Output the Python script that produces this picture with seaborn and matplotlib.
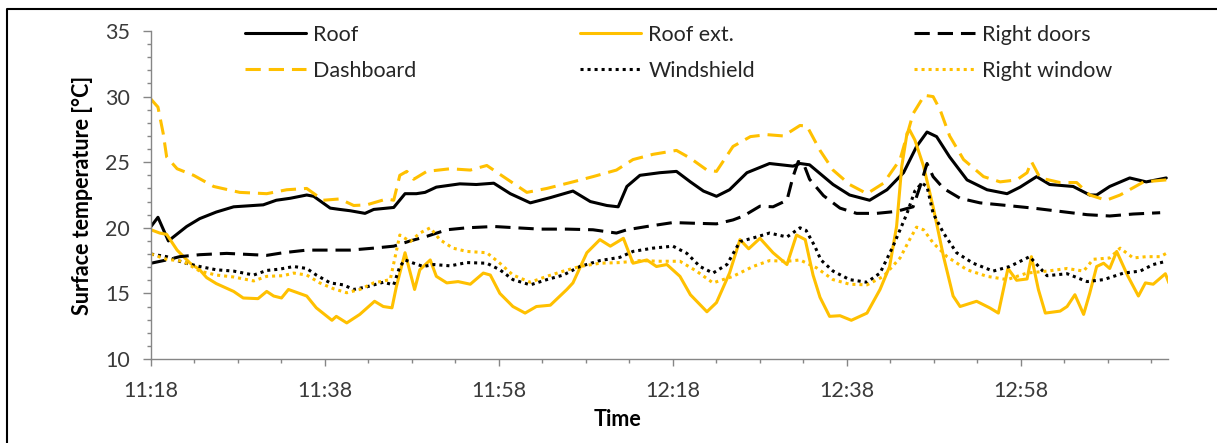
import matplotlib
matplotlib.use("Agg")
import matplotlib.pyplot as plt
import matplotlib.ticker as mticker
from matplotlib.lines import Line2D
import seaborn as sns

sns.set_theme(style="white")
plt.rcParams["font.family"] = ["Lato", "DejaVu Sans"]

# minutes after 11:18 and surface temperatures [°C]
roof_t = [0, 0.8, 2.0, 4.1, 5.6, 7.5, 9.5, 12.9, 14.4, 16.0, 17.9, 18.7, 20.6, 21.7, 22.9, 24.6, 25.6, 27.9,
          29.2, 30.5, 31.5, 32.8, 35.5, 37.4, 39.4, 41.3, 43.6, 45.9, 48.5, 50.5, 52.4, 53.7, 54.7, 56.2,
          58.5, 60.4, 62.0, 63.5, 65.0, 66.5, 68.5, 71.1, 73.8, 74.6, 75.7, 78.4, 80.3, 82.6, 84.6, 86.5,
          88.0, 89.2, 90.3, 91.8, 93.8, 96.1, 98.4, 99.9, 101.8, 103.3, 106.0, 107.9, 108.7, 110.2, 112.5,
          114.4, 116.7]
roof = [20.1, 20.8, 19.0, 20.1, 20.7, 21.2, 21.6, 21.75, 22.1, 22.25, 22.5, 22.4, 21.5, 21.4, 21.3, 21.1, 21.4, 21.55,
        22.6, 22.6, 22.7, 23.1, 23.35, 23.3, 23.4, 22.6, 21.9, 22.3, 22.8, 22.0, 21.7, 21.6, 23.15, 24.0,
        24.2, 24.3, 23.5, 22.8, 22.4, 22.9, 24.2, 24.9, 24.7, 24.9, 24.8, 23.3, 22.5, 22.1, 22.9, 24.2,
        26.2, 27.3, 26.95, 25.4, 23.65, 22.9, 22.6, 23.1, 23.9, 23.3, 23.15, 22.5, 22.5, 23.15, 23.8,
        23.5, 23.8]

dash_t = [0, 0.8, 1.4, 1.8, 3.0, 4.9, 7.2, 10.2, 13.3, 15.6, 17.9, 19.8, 21.7, 23.3, 24.8, 27.1, 27.9, 28.6,
          29.4, 30.2, 31.7, 34.4, 36.7, 38.6, 40.5, 43.2, 45.5, 48.5, 50.8, 53.5, 55.4, 57.7, 60.4, 62.0,
          63.9, 65.0, 66.9, 68.9, 70.8, 72.7, 74.6, 75.4, 76.9, 78.4, 80.3, 82.3, 84.2, 86.1, 87.6, 88.9,
          89.9, 90.7, 91.8, 93.4, 95.7, 97.6, 99.5, 100.7, 101.2, 102.2, 104.5, 106.4, 107.9, 109.8, 111.4,
          114.1, 116.7]
dashboard = [29.8, 29.2, 27.2, 25.4, 24.5, 24.0, 23.15, 22.7, 22.6, 22.9, 23.0, 22.1, 22.2, 21.7, 21.75, 22.2, 22.1, 24.0,
             24.3, 23.7, 24.3, 24.5, 24.4, 24.75, 23.9, 22.7, 23.0, 23.5, 23.9, 24.4, 25.2, 25.6, 25.9, 25.3,
             24.4, 24.3, 26.2, 26.95, 27.1, 27.0, 27.8, 27.75, 25.9, 24.4, 23.3, 22.6, 23.4, 25.2, 28.7, 30.1,
             30.0, 29.0, 27.0, 25.2, 23.9, 23.5, 23.65, 24.2, 25.05, 23.8, 23.45, 23.45, 22.5, 22.1, 22.5,
             23.5, 23.65]

ext_t = [0, 1.0, 1.8, 3.0, 4.5, 5.6, 6.4, 7.5, 9.5, 10.6, 12.3, 13.3, 14.1, 15.0, 15.8, 17.9, 19.0, 20.8,
         21.3, 22.5, 24.0, 25.7, 26.7, 27.7, 28.2, 29.2, 30.3, 30.9, 32.1, 32.8, 34.0, 35.3, 36.7, 38.2,
         39.0, 40.1, 41.6, 43.0, 44.3, 45.9, 47.8, 48.5, 50.1, 51.6, 52.8, 54.3, 55.4, 57.0, 58.1, 59.3,
         60.8, 62.0, 63.9, 65.0, 66.5, 67.7, 68.7, 70.0, 71.5, 73.1, 74.2, 75.2, 76.1, 76.9, 78.0, 79.2,
         80.5, 82.3, 83.8, 84.9, 85.7, 86.3, 86.9, 87.2, 87.8, 88.8, 89.9, 91.1, 92.2, 93.0, 94.9, 96.4,
         97.4, 98.5, 99.5, 100.7, 101.2, 102.0, 102.8, 104.5, 105.3, 106.2, 107.2, 107.9, 108.7, 109.5,
         110.2, 111.0, 112.3, 113.5, 114.3, 115.2, 116.6, 117.0]
roof_ext = [19.85, 19.6, 19.5, 18.3, 17.3, 16.8, 16.2, 15.75, 15.15, 14.65, 14.6, 15.15, 14.8, 14.65, 15.3, 14.8, 13.9, 12.95,
            13.25, 12.75, 13.4, 14.4, 14.0, 13.9, 15.5, 18.1, 15.3, 16.8, 17.55, 16.3, 15.8, 15.9, 15.7, 16.55,
            16.4, 15.0, 14.0, 13.5, 14.0, 14.1, 15.3, 15.8, 18.1, 19.1, 18.6, 19.2, 17.3, 17.55, 17.05, 17.2,
            16.3, 14.9, 13.6, 14.3, 16.55, 19.1, 18.4, 19.2, 18.1, 17.2, 19.45, 19.1, 16.4, 14.7, 13.25, 13.3,
            12.95, 13.5, 15.3, 17.05, 20.1, 24.7, 27.2, 27.45, 26.7, 24.7, 21.6, 17.8, 14.8, 14.0, 14.4, 13.9,
            13.5, 16.9, 16.0, 16.1, 17.8, 15.3, 13.5, 13.65, 14.0, 14.9, 13.4, 15.0, 17.05, 17.3,
            16.9, 18.2, 16.3, 14.8, 15.8, 15.7, 16.5, 15.8]

doors_t = [0, 1.8, 3.3, 5.6, 8.7, 11.8, 13.3, 15.2, 17.9, 20.2, 22.9, 25.6, 27.9, 29.8, 31.7, 34.0, 36.3, 39.4,
           42.0, 44.7, 47.8, 50.8, 53.5, 54.7, 57.0, 60.0, 62.3, 65.0, 66.9, 68.1, 70.0, 71.5, 73.1, 73.8,
           74.4, 75.0, 75.7, 77.3, 79.2, 81.1, 83.4, 85.7, 87.6, 88.4, 89.2, 89.9, 91.1, 93.0, 95.3, 98.4,
           101.4, 104.5, 107.6, 110.2, 112.9, 116.0]
right_doors = [17.3, 17.55, 17.8, 17.95, 18.05, 17.95, 17.9, 18.1, 18.3, 18.3, 18.3, 18.45, 18.6, 19.0, 19.35, 19.85, 20.0, 20.1,
               20.0, 19.9, 19.9, 19.85, 19.6, 19.85, 20.1, 20.4, 20.35, 20.3, 20.6, 20.9, 21.65, 21.6, 22.1, 23.9,
               25.05, 24.9, 23.7, 22.45, 21.5, 21.1, 21.1, 21.25, 21.6, 23.15, 24.9, 23.9, 23.0, 22.25, 21.9, 21.7,
               21.5, 21.25, 21.0, 20.9, 21.05, 21.15]

wind_t = [0, 1.8, 3.7, 5.6, 7.5, 9.5, 11.8, 13.3, 14.8, 16.4, 17.9, 19.0, 20.6, 22.1, 23.3, 24.8, 26.7, 27.9,
          28.6, 29.2, 30.2, 31.3, 32.5, 34.4, 36.3, 38.6, 40.1, 41.6, 43.6, 45.5, 47.4, 49.3, 51.6, 53.9,
          55.4, 57.7, 60.0, 61.6, 63.1, 64.6, 66.2, 67.7, 69.6, 71.1, 73.1, 74.6, 75.3, 76.3, 77.0, 78.4,
          80.3, 82.3, 83.8, 85.3, 86.9, 87.8, 88.6, 89.2, 89.9, 91.1, 92.6, 94.5, 96.8, 98.7, 101.0, 103.0,
          105.3, 107.6, 109.5, 111.8, 113.7, 115.2, 116.7]
windshield = [18.0, 17.8, 17.35, 17.05, 16.8, 16.7, 16.4, 16.75, 16.85, 17.05, 16.9, 16.4, 15.8, 15.65, 15.3, 15.5, 15.85, 15.65,
              17.05, 17.55, 17.3, 17.05, 17.2, 17.1, 17.35, 17.3, 16.8, 16.05, 15.65, 16.05, 16.4, 17.05, 17.5, 17.75,
              18.2, 18.45, 18.6, 18.05, 17.05, 16.55, 17.2, 18.95, 19.3, 19.6, 19.3, 20.0, 19.8, 18.6, 17.55, 16.7,
              16.05, 15.85, 16.55, 18.6, 21.1, 22.8, 23.4, 23.15, 21.1, 19.6, 18.1, 17.3, 16.7, 17.05, 17.8, 16.35,
              16.5, 15.9, 16.05, 16.55, 16.7, 17.2, 17.45]

win_t = [0, 1.8, 3.7, 5.6, 7.5, 9.5, 11.8, 13.3, 15.2, 16.4, 17.9, 19.4, 21.0, 22.5, 24.0, 25.6, 27.5, 28.6,
         29.8, 30.9, 32.1, 33.2, 34.7, 36.3, 38.6, 40.1, 41.6, 43.6, 45.5, 47.4, 49.3, 51.6, 53.9, 56.2,
         58.5, 60.8, 62.7, 64.6, 66.9, 69.2, 71.1, 73.1, 74.6, 76.5, 78.4, 80.3, 82.3, 84.2, 86.1, 87.2,
         88.0, 88.8, 89.9, 91.5, 93.8, 96.1, 98.4, 100.7, 103.0, 105.3, 107.2, 108.3, 110.2, 111.4, 112.9,
         114.4, 116.0, 116.7]
right_window = [18.0, 17.6, 17.45, 16.7, 16.4, 16.25, 15.95, 16.3, 16.35, 16.55, 16.4, 15.8, 15.35, 15.05, 15.3, 15.8, 16.05, 19.45,
                18.95, 19.6, 20.0, 19.1, 18.45, 18.2, 18.1, 17.3, 16.4, 15.85, 16.3, 16.7, 17.05, 17.3, 17.35, 17.5,
                17.45, 17.45, 16.7, 15.8, 16.3, 17.05, 17.5, 17.45, 17.55, 16.95, 16.05, 15.7, 15.65, 16.3, 17.7, 19.1,
                20.05, 19.85, 18.85, 17.8, 16.8, 16.3, 16.05, 16.55, 16.7, 16.9, 16.7, 17.6, 17.7, 18.45, 17.7,
                17.8, 17.8, 18.05]

tick_labels = ["11:18", "11:38", "11:58", "12:18", "12:38", "12:58"]

GOLD = "#FFC000"
DASH = (0, (5, 2.6))
DOT = (0, (1, 1.3))
FS = 15.5

series = [
    ("Roof", roof_t, roof, "black", "-"),
    ("Roof ext.", ext_t, roof_ext, GOLD, "-"),
    ("Right doors", doors_t, right_doors, "black", DASH),
    ("Dashboard", dash_t, dashboard, GOLD, DASH),
    ("Windshield", wind_t, windshield, "black", DOT),
    ("Right window", win_t, right_window, GOLD, DOT),
]

fig = plt.figure(figsize=(12.17, 4.43), dpi=100)
ax = fig.add_axes([151 / 1217, 84 / 443, 1017 / 1217, 328 / 443])

for name, t, v, col, ls in series:
    sns.lineplot(x=t, y=v, color=col, linestyle=ls, linewidth=2.2, label=name, ax=ax,
                 solid_joinstyle="round", dash_joinstyle="round")

ax.set_xlim(0, 116.9)
ax.set_ylim(10, 35)

t0 = int(tick_labels[0][:2]) * 60 + int(tick_labels[0][3:])
tick_pos = [int(s[:2]) * 60 + int(s[3:]) - t0 for s in tick_labels]
ax.set_xticks(tick_pos)
ax.set_xticklabels(tick_labels)
ax.xaxis.set_minor_locator(mticker.MultipleLocator(5))
ax.yaxis.set_major_locator(mticker.MultipleLocator(5))
ax.yaxis.set_minor_locator(mticker.MultipleLocator(1))

for side in ["top", "right"]:
    ax.spines[side].set_visible(False)
for side in ["left", "bottom"]:
    ax.spines[side].set_color("#868686")
    ax.spines[side].set_linewidth(1)

ax.tick_params(axis="both", which="both", direction="out", color="#868686", width=1,
               labelsize=FS, labelcolor="#3a3a3a")
ax.tick_params(axis="y", which="major", length=6, pad=9, left=True)
ax.tick_params(axis="y", which="minor", length=3, left=True)
ax.tick_params(axis="x", which="major", length=5, pad=11, bottom=True)
ax.tick_params(axis="x", which="minor", length=3, bottom=True)

ax.set_xlabel("Time", fontsize=FS, fontweight="bold", color="black")
ax.xaxis.set_label_coords(0.459, -0.152)
ax.set_ylabel("Surface temperature [°C]", fontsize=FS, fontweight="bold", color="black")
ax.yaxis.set_label_coords(-0.057, 0.5)

# legend: three columns, each anchored where the reference puts it
handles, labels = ax.get_legend_handles_labels()
hmap = dict(zip(labels, handles))
columns = [(245, ["Roof", "Dashboard"]),
           (580, ["Roof ext.", "Windshield"]),
           (914, ["Right doors", "Right window"])]
for i, (x0, names) in enumerate(columns):
    leg = ax.legend([hmap[k] for k in names], names, loc="upper left",
                    bbox_to_anchor=(x0 / 1217, 0.944), bbox_transform=fig.transFigure,
                    frameon=False, fontsize=FS, handlelength=2.85, handletextpad=0.33,
                    labelspacing=0.73, borderpad=0, borderaxespad=0)
    if i < len(columns) - 1:
        ax.add_artist(leg)

# outer chart frame (only left and top edges fall inside the image)
fig.add_artist(Line2D([7 / 1217, 7 / 1217, 1], [0, 1 - 9 / 443, 1 - 9 / 443],
                      transform=fig.transFigure, color="black", linewidth=1.5))

fig.savefig("out.png", dpi=100)
